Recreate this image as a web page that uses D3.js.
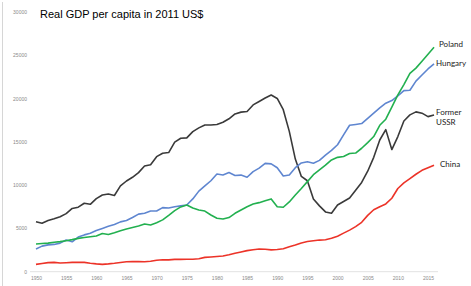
<!DOCTYPE html>
<html>
<head>
<meta charset="utf-8">
<script src="https://cdn.jsdelivr.net/npm/d3@7/dist/d3.min.js"></script>
<style>
  body { margin: 0; background: #fff; }
  svg { display: block; }
</style>
</head>
<body>
<div id="chart"></div>
<script>
var years = d3.range(1950, 2017);

var poland = [3200, 3250, 3300, 3400, 3470, 3580, 3700, 3850, 3950, 4040,
    4120, 4400, 4300, 4500, 4720, 4930, 5100, 5280, 5500, 5400,
    5650, 5980, 6500, 7050, 7480, 7700, 7350, 7130, 7000, 6550,
    6170, 6090, 6250, 6740, 7130, 7500, 7820, 7970, 8200, 8400,
    7500, 7440, 8050, 8850, 9600, 10400, 11200, 11750, 12300, 12900,
    13200, 13300, 13650, 13700, 14250, 14900, 15600, 16900, 17600, 19000,
    20400, 21600, 22900, 23500, 24300, 25100, 25900];

var hungary = [2620, 2950, 3100, 3150, 3300, 3650, 3450, 4000, 4250, 4450,
    4750, 5000, 5250, 5450, 5750, 5900, 6250, 6650, 6750, 7000,
    7000, 7400, 7350, 7500, 7600, 7700, 8400, 9300, 9900, 10500,
    11280, 11170, 11440, 11100, 11150, 10900, 11550, 11950, 12500, 12450,
    12000, 11050, 11170, 12000, 12550, 12700, 12520, 12850, 13450, 14000,
    14650, 15800, 16900, 17000, 17100, 17700, 18300, 18900, 19450, 19750,
    20300, 20900, 20950, 22000, 22700, 23400, 24000];

var ussr = [5775, 5600, 5900, 6100, 6350, 6700, 7300, 7450, 7900, 7780,
    8430, 8850, 8970, 8800, 9900, 10470, 10900, 11440, 12200, 12350,
    13280, 13680, 13750, 14950, 15400, 15450, 16170, 16600, 16940, 16940,
    17000, 17250, 17650, 18210, 18420, 18500, 19250, 19650, 20050, 20400,
    20000, 18700, 16200, 13000, 11000, 10500, 8400, 7600, 6900, 6750,
    7700, 8100, 8500, 9400, 10300, 11600, 13200, 15200, 16400, 14100,
    15600, 17400, 18100, 18450, 18300, 17900, 18100];

var china = [850, 950, 1050, 1080, 1000, 1040, 1080, 1080, 1080, 980,
    900, 850, 900, 970, 1060, 1150, 1160, 1160, 1150, 1200,
    1330, 1380, 1370, 1420, 1420, 1430, 1440, 1500, 1650, 1700,
    1760, 1810, 1950, 2120, 2280, 2430, 2530, 2620, 2600, 2520,
    2560, 2650, 2880, 3080, 3320, 3480, 3580, 3650, 3680, 3850,
    4100, 4450, 4800, 5200, 5700, 6500, 7150, 7500, 7820, 8480,
    9600, 10250, 10750, 11250, 11700, 12000, 12300];

var yTicks = [0, 5000, 10000, 15000, 20000, 25000, 30000];
var xTicks = d3.range(1950, 2016, 5);

var seriesNames  = ['Former USSR', 'Hungary', 'Poland', 'China'];
var seriesValues = [ussr, hungary, poland, china];
var seriesColors = ['#3a3a3a', '#5f86d0', '#22b04f', '#ec3328'];

var width = 471, height = 286;

var svg = d3.select('#chart').append('svg')
    .attr('width', width)
    .attr('height', height);

// faint slide border on the left
svg.append('line')
    .attr('x1', 2.5).attr('x2', 2.5)
    .attr('y1', 2).attr('y2', height)
    .attr('stroke', '#d6d6d6')
    .attr('stroke-width', 1);

var x = d3.scaleLinear().domain([1950, 2015]).range([36, 428]);
var y = d3.scaleLinear().domain([0, 30000]).range([271.7, 11.8]);

// x axis
var xAxis = svg.append('g')
    .attr('transform', 'translate(0,' + y(0) + ')')
    .call(d3.axisBottom(x).tickValues(xTicks).tickFormat(d3.format('d')).tickSize(0).tickPadding(5));
xAxis.select('.domain').remove();
xAxis.append('line')
    .attr('x1', 30).attr('x2', 438)
    .attr('stroke', '#e2e2e2');
xAxis.selectAll('text')
    .attr('fill', '#8a8a8a')
    .style('font-family', 'Liberation Sans, Arial, sans-serif')
    .style('font-size', '5px');

// y axis
var yAxis = svg.append('g')
    .attr('transform', 'translate(27,0)')
    .call(d3.axisLeft(y).tickValues(yTicks).tickFormat(d3.format('d')).tickSize(0).tickPadding(0));
yAxis.select('.domain').remove();
yAxis.selectAll('text')
    .attr('fill', '#8a8a8a')
    .style('font-family', 'Liberation Sans, Arial, sans-serif')
    .style('font-size', '5px');

// lines
var line = d3.line()
    .x(function(d, i) { return x(years[i]); })
    .y(function(d) { return y(d); });

svg.selectAll('.series')
    .data(seriesValues)
    .enter().append('path')
    .attr('class', 'series')
    .attr('d', line)
    .attr('fill', 'none')
    .attr('stroke', function(d, i) { return seriesColors[i]; })
    .attr('stroke-width', 1.6)
    .attr('stroke-linejoin', 'round');

// end labels
var labelFont = 'Lato, Carlito, sans-serif';
var labels = [
    { lines: ['Poland'],          x: 439, y: 47 },
    { lines: ['Hungary'],         x: 436, y: 66 },
    { lines: ['Former', 'USSR'],  x: 436, y: 115 },
    { lines: ['China'],           x: 440, y: 167 }
];
labels.forEach(function(l) {
    var t = svg.append('text')
        .attr('x', l.x).attr('y', l.y)
        .attr('fill', '#222')
        .style('font-family', labelFont)
        .style('font-size', '8px');
    l.lines.forEach(function(s, i) {
        t.append('tspan').attr('x', l.x).attr('dy', i ? 10 : 0).text(s);
    });
});

// title
svg.append('text')
    .attr('x', 40).attr('y', 17.5)
    .attr('fill', '#000')
    .style('font-family', 'Liberation Sans, Arial, sans-serif')
    .style('font-size', '11px')
    .text('Real GDP per capita in 2011 US$');
</script>
</body>
</html>
